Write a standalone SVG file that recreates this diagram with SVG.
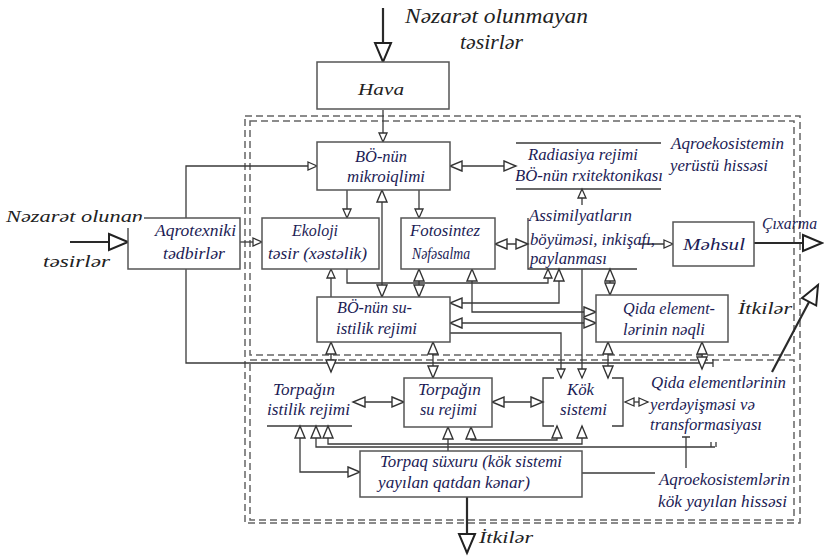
<svg xmlns="http://www.w3.org/2000/svg" width="824" height="556" viewBox="0 0 824 556">
  <style>
    .box { fill: #fff; stroke: #555; stroke-width: 1.5; }
    .edge { fill: none; stroke: #3a3a3a; stroke-width: 1.3; }
    .thick { fill: none; stroke: #2a2a2a; stroke-width: 2.2; }
    .frame { fill: none; stroke: #666; stroke-width: 1.5; stroke-dasharray: 7 4; }
    text { font-family: "Liberation Serif", "DejaVu Serif", serif; font-style: italic; font-size: 16px; fill: #1c1c55; }
    .dark { fill: #222; }
    .big { font-size: 21px; }
  </style>
  <defs>
    <marker id="s" viewBox="-1 -1 11 10" refX="9" refY="4" markerWidth="11" markerHeight="10" markerUnits="userSpaceOnUse" orient="auto-start-reverse" overflow="visible">
      <path d="M0,0 L9,4 L0,8 z" fill="#fff" stroke="#333" stroke-width="1.3"/>
    </marker>
    <marker id="m" viewBox="-1 -1 14 12" refX="12" refY="5" markerWidth="14" markerHeight="12" markerUnits="userSpaceOnUse" orient="auto-start-reverse" overflow="visible">
      <path d="M0,0 L12,5 L0,10 z" fill="#fff" stroke="#333" stroke-width="1.4"/>
    </marker>
    <marker id="b" viewBox="-1 -1 21 18" refX="19" refY="8" markerWidth="21" markerHeight="18" markerUnits="userSpaceOnUse" orient="auto" overflow="visible">
      <path d="M0,0 L19,8 L0,16 z" fill="#fff" stroke="#222" stroke-width="2"/>
    </marker>
  </defs>

  <rect width="824" height="556" fill="#fff"/>

  <!-- system boundaries: whole agroecosystem, above-ground part, root-zone part -->
  <g id="frames">
    <rect class="frame" x="245" y="116" width="555" height="407"/>
    <rect class="frame" x="250" y="121" width="544" height="234"/>
    <rect class="frame" x="250" y="360" width="544" height="160"/>
  </g>

  <g id="connectors">
    <!-- external inputs and outputs -->
    <path class="thick" d="M383,8 V62" marker-end="url(#b)"/>
    <path class="thick" d="M70,242 H128" stroke-width="3" marker-end="url(#b)"/>
    <path class="thick" d="M754,243 H822" marker-end="url(#b)"/>
    <path class="thick" d="M467,497 V553" marker-end="url(#b)"/>
    <path class="thick" d="M772,372 L818,285" marker-end="url(#b)"/>

    <!-- agrotechnical measures loop -->
    <path class="edge" d="M186,218 V166 H317" marker-end="url(#s)"/>
    <path class="edge" d="M186,269 V363 H713"/>
    <path class="edge" d="M713,359 V367"/>
    <path class="edge" d="M240,242 H262" marker-end="url(#s)"/>

    <!-- above-ground links -->
    <path class="edge" d="M383,110 V142" marker-end="url(#s)"/>
    <path class="edge" d="M450,166 H516" marker-start="url(#m)" marker-end="url(#m)"/>
    <path class="edge" d="M347,190 V218" marker-end="url(#s)"/>
    <path class="edge" d="M419,190 V218" marker-end="url(#s)"/>
    <path class="edge" d="M382,190 V297" marker-start="url(#m)" marker-end="url(#m)"/>
    <path class="edge" d="M495,244 H528" marker-start="url(#m)" marker-end="url(#m)"/>
    <path class="edge" d="M582,205 V189" marker-end="url(#s)"/>
    <path class="edge" d="M640,244 H673" marker-end="url(#s)"/>
    <path class="edge" d="M331,297 V269" marker-end="url(#s)"/>
    <path class="edge" d="M347,269 V283 H548 V269" marker-end="url(#s)"/>
    <path class="edge" d="M419,269 V297" marker-start="url(#m)" marker-end="url(#m)"/>
    <path class="edge" d="M472,269 V312 H596" marker-start="url(#m)" marker-end="url(#m)"/>
    <path class="edge" d="M559,269 V303 H450" marker-start="url(#m)" marker-end="url(#m)"/>
    <path class="edge" d="M450,323 H596" marker-start="url(#m)" marker-end="url(#m)"/>
    <path class="edge" d="M450,333 H561 V378" marker-end="url(#s)"/>
    <path class="edge" d="M582,269 V378" marker-end="url(#s)"/>
    <path class="edge" d="M610,269 V295" marker-start="url(#m)" marker-end="url(#m)"/>

    <!-- links crossing into the root zone -->
    <path class="edge" d="M331,342 V372" marker-start="url(#m)" marker-end="url(#m)"/>
    <path class="edge" d="M433,342 V378" marker-start="url(#m)" marker-end="url(#m)"/>
    <path class="edge" d="M608,342 V378" marker-start="url(#m)" marker-end="url(#m)"/>
    <path class="edge" d="M702,342 V369" marker-start="url(#m)" marker-end="url(#m)"/>

    <!-- root-zone links -->
    <path class="edge" d="M353,402 H404" marker-start="url(#m)" marker-end="url(#m)"/>
    <path class="edge" d="M492,402 H543" marker-start="url(#m)" marker-end="url(#m)"/>
    <path class="edge" d="M625,402 H648" marker-start="url(#s)" marker-end="url(#s)"/>
    <path class="edge" d="M300,426 V472 H360" marker-start="url(#m)" marker-end="url(#m)"/>
    <path class="edge" d="M316,426 V447 H715" marker-start="url(#m)"/>
    <path class="edge" d="M711,442 V447 M716,442 V447"/>
    <path class="edge" d="M328,426 V444 H582 V426" marker-start="url(#m)" marker-end="url(#m)"/>
    <path class="edge" d="M448,451 V427" marker-end="url(#m)"/>
    <path class="edge" d="M471,427 V440 H557 V426" marker-start="url(#m)" marker-end="url(#m)"/>
    <path class="edge" d="M582,473 H655"/>
    <path class="edge" d="M686,437 V468 M682,437 H690"/>
  </g>

  <g id="input-uncontrolled">
    <text class="dark big" x="405" y="23" textLength="183" lengthAdjust="spacingAndGlyphs">Nəzarət olunmayan</text>
    <text class="dark big" x="460" y="49" textLength="63" lengthAdjust="spacingAndGlyphs">təsirlər</text>
  </g>

  <g id="input-controlled">
    <text class="dark" x="6" y="222" font-size="20" textLength="137" lengthAdjust="spacingAndGlyphs">Nəzarət olunan</text>
    <text class="dark" x="43" y="267" font-size="20" textLength="67" lengthAdjust="spacingAndGlyphs">təsirlər</text>
  </g>

  <g id="hava">
    <rect class="box" x="317" y="62" width="132" height="47"/>
    <text class="dark" x="358" y="95" font-size="20" textLength="46" lengthAdjust="spacingAndGlyphs">Hava</text>
  </g>

  <g id="mikroiqlim">
    <rect class="box" x="317" y="142" width="133" height="48"/>
    <text x="355" y="162" textLength="52" lengthAdjust="spacingAndGlyphs">BÖ-nün</text>
    <text x="347" y="182" textLength="78" lengthAdjust="spacingAndGlyphs">mikroiqlimi</text>
  </g>

  <g id="radiasiya">
    <path class="edge" d="M516,143 H661 M516,189 H661" stroke="#444"/>
    <text x="528" y="160" textLength="110" lengthAdjust="spacingAndGlyphs">Radiasiya rejimi</text>
    <text x="515" y="181" textLength="148" lengthAdjust="spacingAndGlyphs">BÖ-nün rxitektonikası</text>
  </g>

  <g id="yerustu-label">
    <text x="671" y="149" textLength="113" lengthAdjust="spacingAndGlyphs">Aqroekosistemin</text>
    <text x="670" y="171" textLength="98" lengthAdjust="spacingAndGlyphs">yerüstü hissəsi</text>
  </g>

  <g id="aqrotexniki">
    <path class="box" d="M144,218 H240 V269 H128 V228"/>
    <text x="155" y="236" font-size="15" textLength="81" lengthAdjust="spacingAndGlyphs">Aqrotexniki</text>
    <text x="163" y="259" font-size="15" textLength="62" lengthAdjust="spacingAndGlyphs">tədbirlər</text>
  </g>

  <g id="ekoloji">
    <rect class="box" x="262" y="218" width="117" height="51"/>
    <text x="292" y="236" textLength="46" lengthAdjust="spacingAndGlyphs">Ekoloji</text>
    <text x="268" y="259" textLength="99" lengthAdjust="spacingAndGlyphs">təsir (xəstəlik)</text>
  </g>

  <g id="fotosintez">
    <rect class="box" x="401" y="218" width="94" height="51"/>
    <text x="410" y="236" textLength="70" lengthAdjust="spacingAndGlyphs">Fotosintez</text>
    <text x="412" y="259" textLength="58" lengthAdjust="spacingAndGlyphs">Nəfəsalma</text>
  </g>

  <g id="assimilyatlar">
    <path class="edge" d="M528,218 V269 H637" stroke="#444"/>
    <text x="529" y="221" textLength="103" lengthAdjust="spacingAndGlyphs">Assimilyatların</text>
    <text x="530" y="245" textLength="125" lengthAdjust="spacingAndGlyphs">böyüməsi, inkişafı,</text>
    <text x="530" y="264" textLength="77" lengthAdjust="spacingAndGlyphs">paylanması</text>
  </g>

  <g id="mehsul">
    <rect class="box" x="673" y="222" width="81" height="44"/>
    <text x="683" y="250" font-size="23" textLength="62" lengthAdjust="spacingAndGlyphs">Məhsul</text>
    <text x="762" y="229" textLength="55" lengthAdjust="spacingAndGlyphs">Çıxarma</text>
  </g>

  <g id="su-istilik">
    <rect class="box" x="317" y="297" width="133" height="45"/>
    <text x="337" y="313" textLength="75" lengthAdjust="spacingAndGlyphs">BÖ-nün su-</text>
    <text x="336" y="334" textLength="81" lengthAdjust="spacingAndGlyphs">istilik rejimi</text>
  </g>

  <g id="qida-neqli">
    <rect class="box" x="596" y="295" width="132" height="47"/>
    <text x="623" y="314" textLength="92" lengthAdjust="spacingAndGlyphs">Qida element-</text>
    <text x="623" y="335" textLength="82" lengthAdjust="spacingAndGlyphs">lərinin nəqli</text>
  </g>

  <g id="itkiler-ust">
    <text class="dark" x="738" y="314" font-size="20" textLength="54" lengthAdjust="spacingAndGlyphs">İtkilər</text>
  </g>

  <g id="torpaq-istilik">
    <path class="edge" d="M267,426 H352" stroke="#444"/>
    <text x="273" y="395" textLength="62" lengthAdjust="spacingAndGlyphs">Torpağın</text>
    <text x="267" y="415" textLength="83" lengthAdjust="spacingAndGlyphs">istilik rejimi</text>
  </g>

  <g id="torpaq-su">
    <rect class="box" x="404" y="378" width="88" height="49"/>
    <text x="418" y="395" textLength="63" lengthAdjust="spacingAndGlyphs">Torpağın</text>
    <text x="420" y="415" textLength="57" lengthAdjust="spacingAndGlyphs">su rejimi</text>
  </g>

  <g id="kok-sistemi">
    <path class="edge" d="M554,378 H543 V426 H554 M612,378 H623 V426 H612" stroke="#555" stroke-width="1.5"/>
    <text x="567" y="395" textLength="27" lengthAdjust="spacingAndGlyphs">Kök</text>
    <text x="560" y="415" textLength="47" lengthAdjust="spacingAndGlyphs">sistemi</text>
  </g>

  <g id="qida-transformasiya">
    <text x="651" y="388" textLength="135" lengthAdjust="spacingAndGlyphs">Qida elementlərinin</text>
    <text x="650" y="410" textLength="105" lengthAdjust="spacingAndGlyphs">yerdəyişməsi və</text>
    <text x="650" y="430" textLength="112" lengthAdjust="spacingAndGlyphs">transformasiyası</text>
  </g>

  <g id="torpaq-suxuru">
    <rect class="box" x="360" y="451" width="222" height="46"/>
    <text x="380" y="467" textLength="182" lengthAdjust="spacingAndGlyphs">Torpaq süxuru (kök sistemi</text>
    <text x="378" y="488" textLength="152" lengthAdjust="spacingAndGlyphs">yayılan qatdan kənar)</text>
  </g>

  <g id="kok-label">
    <text x="659" y="485" textLength="131" lengthAdjust="spacingAndGlyphs">Aqroekosistemlərin</text>
    <text x="658" y="507" textLength="129" lengthAdjust="spacingAndGlyphs">kök yayılan hissəsi</text>
  </g>

  <g id="itkiler-alt">
    <text class="dark" x="479" y="543" font-size="20" textLength="54" lengthAdjust="spacingAndGlyphs">İtkilər</text>
  </g>
</svg>
